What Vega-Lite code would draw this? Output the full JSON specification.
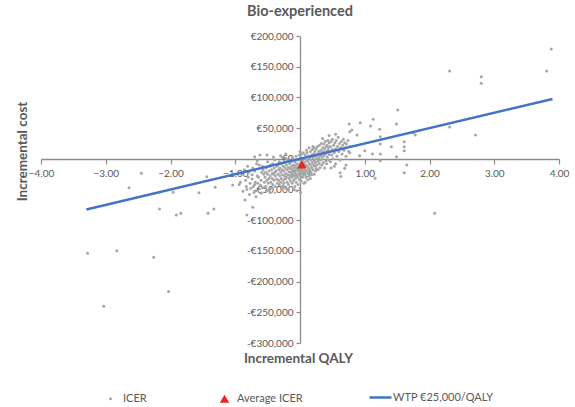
{
  "$schema": "https://vega.github.io/schema/vega-lite/v6.json",
  "width": 518,
  "height": 307,
  "autosize": {"type": "none"},
  "padding": {"left": 41, "top": 36, "right": 16, "bottom": 64},
  "config": {
    "view": {"stroke": null},
    "font": "Lato",
    "axis": {
      "grid": false,
      "domainColor": "#8C8C8C",
      "domainWidth": 1.3,
      "tickColor": "#8C8C8C",
      "tickWidth": 1.2,
      "labelColor": "#595959",
      "labelFontSize": 10,
      "labelFlush": false,
      "labelOverlap": false,
      "titleColor": "#595959",
      "titleFontSize": 13.5,
      "titleFontWeight": "bold"
    },
    "legend": {"labelFontSize": 11, "labelColor": "#595959", "labelFont": "Lato"}
  },
  "title": {"text": "Bio-experienced", "fontSize": 14.5, "fontWeight": "bold", "color": "#595959", "anchor": "middle", "offset": 12},
  "layer": [
    {
      "data": {"values": [
        {"q":-0.92,"c":-38000,"s":"ICER"},{"q":-0.88,"c":-53000,"s":"ICER"},{"q":-0.85,"c":-67000,"s":"ICER"},{"q":-0.9,"c":-25000,"s":"ICER"},{"q":-0.83,"c":-45000,"s":"ICER"},{"q":-0.8,"c":-30000,"s":"ICER"},{"q":-0.78,"c":-58000,"s":"ICER"},{"q":-0.86,"c":-18000,"s":"ICER"},{"q":-0.77,"c":-40000,"s":"ICER"},{"q":-0.82,"c":-50000,"s":"ICER"},{"q":-0.79,"c":-22000,"s":"ICER"},{"q":-0.76,"c":-48000,"s":"ICER"},{"q":-0.94,"c":-42000,"s":"ICER"},{"q":-0.81,"c":-12000,"s":"ICER"},{"q":-0.84,"c":-35000,"s":"ICER"},
        {"q":-0.74,"c":-33000,"s":"ICER"},{"q":-0.72,"c":-45000,"s":"ICER"},{"q":-0.7,"c":-20000,"s":"ICER"},{"q":-0.68,"c":-52000,"s":"ICER"},{"q":-0.66,"c":-28000,"s":"ICER"},{"q":-0.65,"c":-40000,"s":"ICER"},{"q":-0.63,"c":-10000,"s":"ICER"},{"q":-0.62,"c":6000,"s":"ICER"},{"q":-0.6,"c":-35000,"s":"ICER"},{"q":-0.58,"c":-47000,"s":"ICER"},{"q":-0.57,"c":-18000,"s":"ICER"},{"q":-0.56,"c":-25000,"s":"ICER"},{"q":-0.73,"c":-15000,"s":"ICER"},{"q":-0.71,"c":-55000,"s":"ICER"},{"q":-0.69,"c":-38000,"s":"ICER"},{"q":-0.67,"c":-8000,"s":"ICER"},{"q":-0.64,"c":-30000,"s":"ICER"},{"q":-0.61,"c":-43000,"s":"ICER"},{"q":-0.59,"c":-22000,"s":"ICER"},{"q":-0.55,"c":-38000,"s":"ICER"},{"q":-0.74,"c":-26000,"s":"ICER"},{"q":-0.6,"c":-56000,"s":"ICER"},{"q":-0.66,"c":-3000,"s":"ICER"},{"q":-0.58,"c":-12000,"s":"ICER"},{"q":-0.7,"c":-42000,"s":"ICER"},
        {"q":-0.54,"c":-30000,"s":"ICER"},{"q":-0.53,"c":-45000,"s":"ICER"},{"q":-0.52,"c":-15000,"s":"ICER"},{"q":-0.51,"c":-35000,"s":"ICER"},{"q":-0.5,"c":-25000,"s":"ICER"},{"q":-0.5,"c":-5000,"s":"ICER"},{"q":-0.49,"c":-40000,"s":"ICER"},{"q":-0.48,"c":-20000,"s":"ICER"},{"q":-0.47,"c":-50000,"s":"ICER"},{"q":-0.46,"c":-28000,"s":"ICER"},{"q":-0.45,"c":-10000,"s":"ICER"},{"q":-0.45,"c":-38000,"s":"ICER"},{"q":-0.44,"c":-18000,"s":"ICER"},{"q":-0.43,"c":-32000,"s":"ICER"},{"q":-0.42,"c":-42000,"s":"ICER"},{"q":-0.42,"c":-8000,"s":"ICER"},{"q":-0.41,"c":-25000,"s":"ICER"},{"q":-0.4,"c":-15000,"s":"ICER"},{"q":-0.4,"c":-35000,"s":"ICER"},{"q":-0.39,"c":-2000,"s":"ICER"},{"q":-0.38,"c":-28000,"s":"ICER"},{"q":-0.38,"c":-45000,"s":"ICER"},{"q":-0.37,"c":-20000,"s":"ICER"},{"q":-0.36,"c":-12000,"s":"ICER"},{"q":-0.36,"c":-33000,"s":"ICER"},{"q":-0.35,"c":-40000,"s":"ICER"},{"q":-0.53,"c":-22000,"s":"ICER"},{"q":-0.47,"c":-12000,"s":"ICER"},{"q":-0.44,"c":-48000,"s":"ICER"},{"q":-0.41,"c":3000,"s":"ICER"},{"q":-0.39,"c":-22000,"s":"ICER"},{"q":-0.52,"c":-52000,"s":"ICER"},{"q":-0.48,"c":-32000,"s":"ICER"},{"q":-0.46,"c":-55000,"s":"ICER"},{"q":-0.43,"c":-24000,"s":"ICER"},
        {"q":-0.34,"c":-25000,"s":"ICER"},{"q":-0.34,"c":-10000,"s":"ICER"},{"q":-0.33,"c":-35000,"s":"ICER"},{"q":-0.33,"c":-18000,"s":"ICER"},{"q":-0.32,"c":-42000,"s":"ICER"},{"q":-0.32,"c":-5000,"s":"ICER"},{"q":-0.31,"c":-28000,"s":"ICER"},{"q":-0.31,"c":-15000,"s":"ICER"},{"q":-0.3,"c":-38000,"s":"ICER"},{"q":-0.3,"c":-22000,"s":"ICER"},{"q":-0.29,"c":-8000,"s":"ICER"},{"q":-0.29,"c":-32000,"s":"ICER"},{"q":-0.28,"c":-45000,"s":"ICER"},{"q":-0.28,"c":-18000,"s":"ICER"},{"q":-0.27,"c":-26000,"s":"ICER"},{"q":-0.27,"c":2000,"s":"ICER"},{"q":-0.26,"c":-12000,"s":"ICER"},{"q":-0.26,"c":-35000,"s":"ICER"},{"q":-0.25,"c":-20000,"s":"ICER"},{"q":-0.25,"c":-40000,"s":"ICER"},{"q":-0.24,"c":-28000,"s":"ICER"},{"q":-0.24,"c":-6000,"s":"ICER"},{"q":-0.23,"c":-15000,"s":"ICER"},{"q":-0.23,"c":-33000,"s":"ICER"},{"q":-0.22,"c":-24000,"s":"ICER"},{"q":-0.22,"c":-48000,"s":"ICER"},{"q":-0.21,"c":-10000,"s":"ICER"},{"q":-0.21,"c":-30000,"s":"ICER"},{"q":-0.2,"c":-18000,"s":"ICER"},{"q":-0.2,"c":-38000,"s":"ICER"},{"q":-0.19,"c":-3000,"s":"ICER"},{"q":-0.19,"c":-26000,"s":"ICER"},{"q":-0.18,"c":-14000,"s":"ICER"},{"q":-0.18,"c":-42000,"s":"ICER"},{"q":-0.17,"c":-21000,"s":"ICER"},{"q":-0.17,"c":-32000,"s":"ICER"},{"q":-0.16,"c":-8000,"s":"ICER"},{"q":-0.16,"c":-27000,"s":"ICER"},{"q":-0.15,"c":-16000,"s":"ICER"},{"q":-0.15,"c":-36000,"s":"ICER"},{"q":-0.3,"c":5000,"s":"ICER"},{"q":-0.22,"c":8000,"s":"ICER"},{"q":-0.18,"c":-50000,"s":"ICER"},{"q":-0.26,"c":-44000,"s":"ICER"},{"q":-0.2,"c":-1000,"s":"ICER"},
        {"q":-0.14,"c":-22000,"s":"ICER"},{"q":-0.14,"c":-5000,"s":"ICER"},{"q":-0.13,"c":-30000,"s":"ICER"},{"q":-0.13,"c":-12000,"s":"ICER"},{"q":-0.12,"c":-40000,"s":"ICER"},{"q":-0.12,"c":-18000,"s":"ICER"},{"q":-0.11,"c":-25000,"s":"ICER"},{"q":-0.11,"c":0,"s":"ICER"},{"q":-0.1,"c":-35000,"s":"ICER"},{"q":-0.1,"c":-10000,"s":"ICER"},{"q":-0.1,"c":-20000,"s":"ICER"},{"q":-0.09,"c":-28000,"s":"ICER"},{"q":-0.09,"c":-15000,"s":"ICER"},{"q":-0.08,"c":-45000,"s":"ICER"},{"q":-0.08,"c":-5000,"s":"ICER"},{"q":-0.08,"c":-22000,"s":"ICER"},{"q":-0.07,"c":-32000,"s":"ICER"},{"q":-0.07,"c":-12000,"s":"ICER"},{"q":-0.06,"c":-18000,"s":"ICER"},{"q":-0.06,"c":4000,"s":"ICER"},{"q":-0.06,"c":-38000,"s":"ICER"},{"q":-0.05,"c":-26000,"s":"ICER"},{"q":-0.05,"c":-8000,"s":"ICER"},{"q":-0.04,"c":-15000,"s":"ICER"},{"q":-0.04,"c":-30000,"s":"ICER"},{"q":-0.03,"c":-20000,"s":"ICER"},{"q":-0.03,"c":-2000,"s":"ICER"},{"q":-0.03,"c":-42000,"s":"ICER"},{"q":-0.02,"c":-11000,"s":"ICER"},{"q":-0.02,"c":-25000,"s":"ICER"},{"q":-0.01,"c":-17000,"s":"ICER"},{"q":-0.01,"c":-34000,"s":"ICER"},{"q":-0.01,"c":6000,"s":"ICER"},{"q":0,"c":-8000,"s":"ICER"},{"q":0,"c":-22000,"s":"ICER"},{"q":0,"c":-48000,"s":"ICER"},{"q":0.01,"c":-14000,"s":"ICER"},{"q":0.01,"c":-28000,"s":"ICER"},{"q":0.01,"c":2000,"s":"ICER"},{"q":0.02,"c":-19000,"s":"ICER"},{"q":0.02,"c":-5000,"s":"ICER"},{"q":0.02,"c":-36000,"s":"ICER"},{"q":0.03,"c":-12000,"s":"ICER"},{"q":0.03,"c":-24000,"s":"ICER"},{"q":0.03,"c":8000,"s":"ICER"},{"q":0.04,"c":-16000,"s":"ICER"},{"q":0.04,"c":-2000,"s":"ICER"},{"q":0.04,"c":-30000,"s":"ICER"},{"q":0.05,"c":-9000,"s":"ICER"},{"q":0.05,"c":-20000,"s":"ICER"},{"q":0.05,"c":10000,"s":"ICER"},{"q":-0.09,"c":-50000,"s":"ICER"},{"q":-0.05,"c":-52000,"s":"ICER"},{"q":0,"c":12000,"s":"ICER"},{"q":-0.12,"c":3000,"s":"ICER"},
        {"q":0.06,"c":-14000,"s":"ICER"},{"q":0.06,"c":0,"s":"ICER"},{"q":0.07,"c":-25000,"s":"ICER"},{"q":0.07,"c":-6000,"s":"ICER"},{"q":0.08,"c":-18000,"s":"ICER"},{"q":0.08,"c":6000,"s":"ICER"},{"q":0.09,"c":-10000,"s":"ICER"},{"q":0.09,"c":-30000,"s":"ICER"},{"q":0.1,"c":-2000,"s":"ICER"},{"q":0.1,"c":-20000,"s":"ICER"},{"q":0.11,"c":-12000,"s":"ICER"},{"q":0.11,"c":10000,"s":"ICER"},{"q":0.12,"c":-24000,"s":"ICER"},{"q":0.12,"c":-4000,"s":"ICER"},{"q":0.13,"c":-15000,"s":"ICER"},{"q":0.13,"c":4000,"s":"ICER"},{"q":0.14,"c":-8000,"s":"ICER"},{"q":0.14,"c":-28000,"s":"ICER"},{"q":0.15,"c":2000,"s":"ICER"},{"q":0.15,"c":-18000,"s":"ICER"},{"q":0.16,"c":-10000,"s":"ICER"},{"q":0.16,"c":12000,"s":"ICER"},{"q":0.17,"c":-22000,"s":"ICER"},{"q":0.17,"c":-2000,"s":"ICER"},{"q":0.18,"c":6000,"s":"ICER"},{"q":0.18,"c":-14000,"s":"ICER"},{"q":0.19,"c":-6000,"s":"ICER"},{"q":0.19,"c":15000,"s":"ICER"},{"q":0.2,"c":-18000,"s":"ICER"},{"q":0.2,"c":2000,"s":"ICER"},{"q":0.21,"c":-10000,"s":"ICER"},{"q":0.21,"c":8000,"s":"ICER"},{"q":0.22,"c":-3000,"s":"ICER"},{"q":0.22,"c":-25000,"s":"ICER"},{"q":0.23,"c":12000,"s":"ICER"},{"q":0.23,"c":-12000,"s":"ICER"},{"q":0.24,"c":4000,"s":"ICER"},{"q":0.24,"c":-6000,"s":"ICER"},{"q":0.25,"c":-16000,"s":"ICER"},{"q":0.25,"c":16000,"s":"ICER"},{"q":0.08,"c":-38000,"s":"ICER"},{"q":0.12,"c":-34000,"s":"ICER"},{"q":0.16,"c":-32000,"s":"ICER"},{"q":0.1,"c":14000,"s":"ICER"},{"q":0.2,"c":20000,"s":"ICER"},{"q":0.14,"c":18000,"s":"ICER"},{"q":0.06,"c":-40000,"s":"ICER"},{"q":0.18,"c":-26000,"s":"ICER"},{"q":0.22,"c":18000,"s":"ICER"},{"q":0.24,"c":-20000,"s":"ICER"},
        {"q":0.26,"c":0,"s":"ICER"},{"q":0.26,"c":-10000,"s":"ICER"},{"q":0.27,"c":8000,"s":"ICER"},{"q":0.27,"c":20000,"s":"ICER"},{"q":0.28,"c":-4000,"s":"ICER"},{"q":0.28,"c":-18000,"s":"ICER"},{"q":0.29,"c":12000,"s":"ICER"},{"q":0.29,"c":2000,"s":"ICER"},{"q":0.3,"c":-8000,"s":"ICER"},{"q":0.3,"c":22000,"s":"ICER"},{"q":0.31,"c":6000,"s":"ICER"},{"q":0.31,"c":-14000,"s":"ICER"},{"q":0.32,"c":14000,"s":"ICER"},{"q":0.32,"c":-2000,"s":"ICER"},{"q":0.33,"c":25000,"s":"ICER"},{"q":0.33,"c":4000,"s":"ICER"},{"q":0.34,"c":-10000,"s":"ICER"},{"q":0.34,"c":10000,"s":"ICER"},{"q":0.35,"c":18000,"s":"ICER"},{"q":0.35,"c":0,"s":"ICER"},{"q":0.36,"c":-6000,"s":"ICER"},{"q":0.36,"c":12000,"s":"ICER"},{"q":0.37,"c":24000,"s":"ICER"},{"q":0.37,"c":5000,"s":"ICER"},{"q":0.38,"c":-15000,"s":"ICER"},{"q":0.38,"c":16000,"s":"ICER"},{"q":0.39,"c":8000,"s":"ICER"},{"q":0.39,"c":28000,"s":"ICER"},{"q":0.4,"c":-3000,"s":"ICER"},{"q":0.4,"c":20000,"s":"ICER"},{"q":0.41,"c":11000,"s":"ICER"},{"q":0.41,"c":-8000,"s":"ICER"},{"q":0.42,"c":22000,"s":"ICER"},{"q":0.42,"c":3000,"s":"ICER"},{"q":0.43,"c":14000,"s":"ICER"},{"q":0.43,"c":30000,"s":"ICER"},{"q":0.44,"c":-2000,"s":"ICER"},{"q":0.44,"c":18000,"s":"ICER"},{"q":0.45,"c":7000,"s":"ICER"},{"q":0.45,"c":26000,"s":"ICER"},
        {"q":0.46,"c":12000,"s":"ICER"},{"q":0.47,"c":-5000,"s":"ICER"},{"q":0.47,"c":20000,"s":"ICER"},{"q":0.48,"c":28000,"s":"ICER"},{"q":0.49,"c":6000,"s":"ICER"},{"q":0.5,"c":15000,"s":"ICER"},{"q":0.5,"c":32000,"s":"ICER"},{"q":0.51,"c":0,"s":"ICER"},{"q":0.52,"c":22000,"s":"ICER"},{"q":0.53,"c":10000,"s":"ICER"},{"q":0.54,"c":26000,"s":"ICER"},{"q":0.55,"c":-8000,"s":"ICER"},{"q":0.55,"c":16000,"s":"ICER"},{"q":0.56,"c":30000,"s":"ICER"},{"q":0.57,"c":4000,"s":"ICER"},{"q":0.58,"c":20000,"s":"ICER"},{"q":0.59,"c":35000,"s":"ICER"},{"q":0.6,"c":12000,"s":"ICER"},{"q":0.61,"c":25000,"s":"ICER"},{"q":0.62,"c":-2000,"s":"ICER"},{"q":0.63,"c":18000,"s":"ICER"},{"q":0.64,"c":28000,"s":"ICER"},{"q":0.65,"c":8000,"s":"ICER"},{"q":0.66,"c":22000,"s":"ICER"},{"q":0.67,"c":32000,"s":"ICER"},{"q":0.68,"c":14000,"s":"ICER"},{"q":0.69,"c":26000,"s":"ICER"},{"q":0.7,"c":18000,"s":"ICER"},{"q":0.71,"c":4000,"s":"ICER"},{"q":0.72,"c":24000,"s":"ICER"},{"q":0.74,"c":30000,"s":"ICER"},{"q":0.75,"c":12000,"s":"ICER"},{"q":0.77,"c":20000,"s":"ICER"},{"q":0.53,"c":-12000,"s":"ICER"},{"q":0.48,"c":-15000,"s":"ICER"},{"q":0.45,"c":38000,"s":"ICER"},{"q":0.55,"c":40000,"s":"ICER"},{"q":0.35,"c":33000,"s":"ICER"},
        {"q":3.88,"c":178800,"s":"ICER"},{"q":3.81,"c":143000,"s":"ICER"},{"q":2.31,"c":143000,"s":"ICER"},{"q":2.8,"c":133700,"s":"ICER"},{"q":2.8,"c":123000,"s":"ICER"},{"q":1.51,"c":79500,"s":"ICER"},{"q":1.49,"c":56700,"s":"ICER"},{"q":2.31,"c":51800,"s":"ICER"},{"q":2.71,"c":38800,"s":"ICER"},{"q":0.76,"c":56700,"s":"ICER"},{"q":0.93,"c":58800,"s":"ICER"},{"q":1.09,"c":53400,"s":"ICER"},{"q":1.13,"c":64300,"s":"ICER"},{"q":0.8,"c":46900,"s":"ICER"},{"q":0.88,"c":38800,"s":"ICER"},{"q":1.23,"c":48000,"s":"ICER"},{"q":1.75,"c":42500,"s":"ICER"},{"q":1.78,"c":38800,"s":"ICER"},{"q":2.08,"c":-88800,"s":"ICER"},{"q":1.61,"c":27900,"s":"ICER"},{"q":1.61,"c":19700,"s":"ICER"},{"q":1.61,"c":13200,"s":"ICER"},{"q":1.49,"c":3400,"s":"ICER"},{"q":1.65,"c":-10000,"s":"ICER"},{"q":1.61,"c":-22600,"s":"ICER"},{"q":1.41,"c":19700,"s":"ICER"},{"q":1.24,"c":36000,"s":"ICER"},{"q":1.24,"c":24000,"s":"ICER"},{"q":1.24,"c":7800,"s":"ICER"},{"q":1.24,"c":-3000,"s":"ICER"},{"q":1.12,"c":7800,"s":"ICER"},{"q":1.16,"c":-31800,"s":"ICER"},{"q":1.0,"c":13200,"s":"ICER"},{"q":0.92,"c":5000,"s":"ICER"},{"q":0.77,"c":10000,"s":"ICER"},{"q":0.63,"c":-29000,"s":"ICER"},{"q":0.62,"c":-22600,"s":"ICER"},{"q":0.69,"c":-15500,"s":"ICER"},{"q":0.71,"c":-10000,"s":"ICER"},{"q":0.01,"c":-55000,"s":"ICER"},{"q":0.77,"c":44000,"s":"ICER"},
        {"q":-3.28,"c":-153900,"s":"ICER"},{"q":-2.83,"c":-149700,"s":"ICER"},{"q":-2.26,"c":-160500,"s":"ICER"},{"q":-2.03,"c":-216000,"s":"ICER"},{"q":-3.03,"c":-240000,"s":"ICER"},{"q":-2.45,"c":-23600,"s":"ICER"},{"q":-2.64,"c":-47000,"s":"ICER"},{"q":-2.17,"c":-81800,"s":"ICER"},{"q":-1.96,"c":-54600,"s":"ICER"},{"q":-1.91,"c":-91500,"s":"ICER"},{"q":-1.84,"c":-88800,"s":"ICER"},{"q":-1.56,"c":-55200,"s":"ICER"},{"q":-1.44,"c":-29100,"s":"ICER"},{"q":-1.42,"c":-88800,"s":"ICER"},{"q":-1.33,"c":-81800,"s":"ICER"},{"q":-1.31,"c":-46400,"s":"ICER"},{"q":-1.04,"c":-42700,"s":"ICER"},{"q":-0.73,"c":-79000,"s":"ICER"},{"q":-0.82,"c":-91500,"s":"ICER"},{"q":-0.68,"c":-61700,"s":"ICER"},{"q":-0.7,"c":3400,"s":"ICER"},{"q":-0.51,"c":6200,"s":"ICER"}
      ]},
      "mark": {"type": "point", "filled": true, "opacity": 1},
      "encoding": {
        "x": {"field": "q", "type": "quantitative", "scale": {"domain": [-4, 4], "nice": false, "zero": false},
          "axis": {"title": "Incremental QALY", "offset": -184, "values": [-4, -3, -2, -1, 0, 1, 2, 3, 4], "tickCount": 20, "format": ".2f", "tickSize": 5, "labelPadding": 4, "labelOverlap": false, "labelBound": false, "titleX": 257, "titleY": 199, "titleBaseline": "middle", "titleAlign": "center"}},
        "y": {"field": "c", "type": "quantitative", "scale": {"domain": [-300000, 200000], "nice": false, "zero": false},
          "axis": {"title": "Incremental cost", "offset": -259, "values": [-300000, -250000, -200000, -150000, -100000, -50000, 0, 50000, 100000, 150000, 200000], "tickCount": 20, "labelExpr": "(datum.value < 0 ? '-' : '') + '€' + format(abs(datum.value), ',')", "tickSize": 4, "labelPadding": 3, "labelOverlap": false, "labelBound": false, "titleX": -278, "titleY": 115, "titleAngle": -90, "titleBaseline": "middle", "titleAlign": "center"}},
        "color": {"field": "s", "type": "nominal",
          "scale": {"domain": ["ICER", "Average ICER"], "range": ["#A6A6A6", "#E8251F"]},
          "legend": {"title": null, "orient": "none", "direction": "horizontal", "columns": 2, "legendX": 64, "legendY": 357, "columnPadding": 72, "labelOffset": 7}},
        "shape": {"field": "s", "type": "nominal",
          "scale": {"domain": ["ICER", "Average ICER"], "range": ["circle", "triangle-up"]},
          "legend": {"title": null, "orient": "none", "direction": "horizontal", "columns": 2, "legendX": 64, "legendY": 357, "columnPadding": 72, "labelOffset": 7}},
        "size": {"field": "s", "type": "nominal",
          "scale": {"domain": ["ICER", "Average ICER"], "range": [9, 90]},
          "legend": {"title": null, "orient": "none", "direction": "horizontal", "columns": 2, "legendX": 64, "legendY": 357, "columnPadding": 72, "labelOffset": 7}}
      }
    },
    {
      "data": {"values": [{"q": 0.03, "c": -9000, "s": "Average ICER"}]},
      "mark": {"type": "point", "filled": true, "opacity": 1},
      "encoding": {
        "x": {"field": "q", "type": "quantitative"},
        "y": {"field": "c", "type": "quantitative"},
        "color": {"field": "s", "type": "nominal"},
        "shape": {"field": "s", "type": "nominal"},
        "size": {"field": "s", "type": "nominal"}
      }
    },
    {
      "data": {"values": [{"q": -3.3, "c": -82500, "s": "WTP €25,000/QALY"}, {"q": 3.9, "c": 97500, "s": "WTP €25,000/QALY"}]},
      "mark": {"type": "line", "strokeWidth": 2.5},
      "encoding": {
        "x": {"field": "q", "type": "quantitative"},
        "y": {"field": "c", "type": "quantitative"},
        "stroke": {"field": "s", "type": "nominal",
          "scale": {"domain": ["WTP €25,000/QALY"], "range": ["#4472C4"]},
          "legend": {"title": null, "orient": "none", "legendX": 327, "legendY": 349, "symbolType": "stroke", "symbolSize": 484, "symbolStrokeWidth": 2.5, "labelOffset": 0}}
      }
    }
  ]
}
